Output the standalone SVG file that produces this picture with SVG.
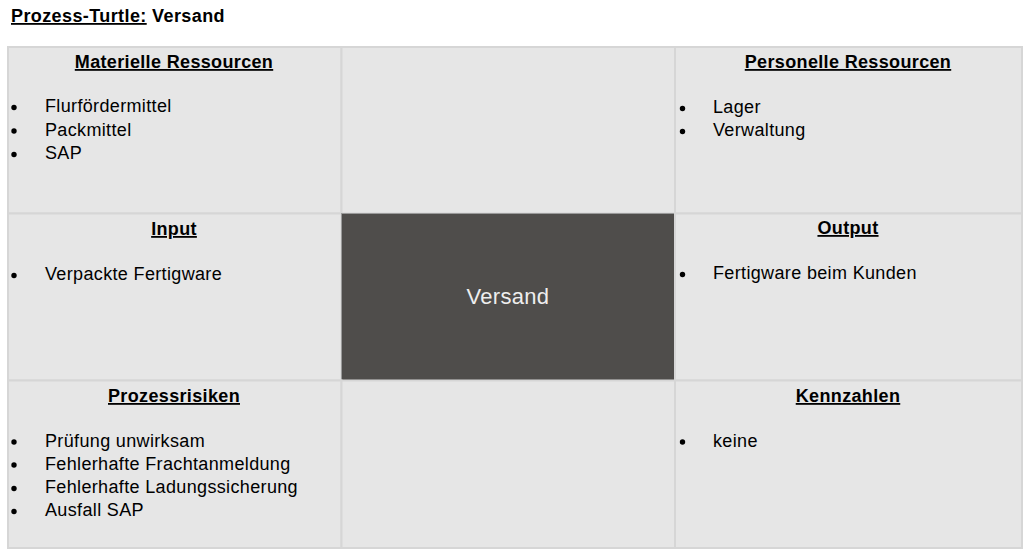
<svg xmlns="http://www.w3.org/2000/svg" width="1024" height="550" viewBox="0 0 1024 550">
<style>
.cell{fill:#e6e6e6;stroke:#d6d6d6;stroke-width:2}
.h{font-family:"Liberation Sans",Arial,sans-serif;font-weight:bold;font-size:18px;letter-spacing:0.35px;fill:#000;text-decoration:underline;text-anchor:middle}
.t{font-family:"Liberation Sans",Arial,sans-serif;font-size:18px;letter-spacing:0.35px;fill:#000}
.b{fill:#000}
</style>
<rect width="1024" height="550" fill="#ffffff"/>
<g id="title">
<text x="11" y="22" style="font-family:'Liberation Sans',Arial,sans-serif;font-weight:bold;font-size:18px;letter-spacing:0.4px"><tspan text-decoration="underline">Prozess-Turtle:</tspan> Versand</text>
</g>
<g id="materielle">
<rect class="cell" x="8" y="47" width="333.5" height="166.5"/>
<text class="h" x="174" y="68">Materielle Ressourcen</text>
<circle class="b" cx="14" cy="107.5" r="2.7"/><text class="t" x="45" y="112">Flurfördermittel</text>
<circle class="b" cx="14" cy="131" r="2.7"/><text class="t" x="45" y="135.5">Packmittel</text>
<circle class="b" cx="14" cy="154.5" r="2.7"/><text class="t" x="45" y="159">SAP</text>
</g>
<g id="top-center">
<rect class="cell" x="341.5" y="47" width="333.5" height="166.5"/>
</g>
<g id="personelle">
<rect class="cell" x="675" y="47" width="347" height="166.5"/>
<text class="h" x="848" y="68">Personelle Ressourcen</text>
<circle class="b" cx="682.5" cy="108.5" r="2.7"/><text class="t" x="713" y="113">Lager</text>
<circle class="b" cx="682.5" cy="131.5" r="2.7"/><text class="t" x="713" y="136">Verwaltung</text>
</g>
<g id="input">
<rect class="cell" x="8" y="213.5" width="333.5" height="167"/>
<text class="h" x="174" y="235">Input</text>
<circle class="b" cx="14" cy="275.5" r="2.7"/><text class="t" x="45" y="280">Verpackte Fertigware</text>
</g>
<g id="versand">
<rect x="341.5" y="213.5" width="333.5" height="167" fill="#4f4d4b" stroke="#9a9a9a" stroke-width="1"/>
<text x="508" y="304" style="font-family:'Liberation Sans',Arial,sans-serif;font-size:22px;letter-spacing:0.3px;fill:#eeeeee;text-anchor:middle">Versand</text>
</g>
<g id="output">
<rect class="cell" x="675" y="213.5" width="347" height="167"/>
<text class="h" x="848" y="234">Output</text>
<circle class="b" cx="682.5" cy="274.5" r="2.7"/><text class="t" x="713" y="279">Fertigware beim Kunden</text>
</g>
<g id="risiken">
<rect class="cell" x="8" y="380.5" width="333.5" height="167.5"/>
<text class="h" x="174" y="402">Prozessrisiken</text>
<circle class="b" cx="14" cy="442" r="2.7"/><text class="t" x="45" y="446.5">Prüfung unwirksam</text>
<circle class="b" cx="14" cy="465" r="2.7"/><text class="t" x="45" y="469.5">Fehlerhafte Frachtanmeldung</text>
<circle class="b" cx="14" cy="488.5" r="2.7"/><text class="t" x="45" y="493">Fehlerhafte Ladungssicherung</text>
<circle class="b" cx="14" cy="511.5" r="2.7"/><text class="t" x="45" y="516">Ausfall SAP</text>
</g>
<g id="bottom-center">
<rect class="cell" x="341.5" y="380.5" width="333.5" height="167.5"/>
</g>
<g id="kennzahlen">
<rect class="cell" x="675" y="380.5" width="347" height="167.5"/>
<text class="h" x="848" y="402">Kennzahlen</text>
<circle class="b" cx="682.5" cy="442" r="2.7"/><text class="t" x="713" y="446.5">keine</text>
</g>
<g id="connectors"/>
</svg>
